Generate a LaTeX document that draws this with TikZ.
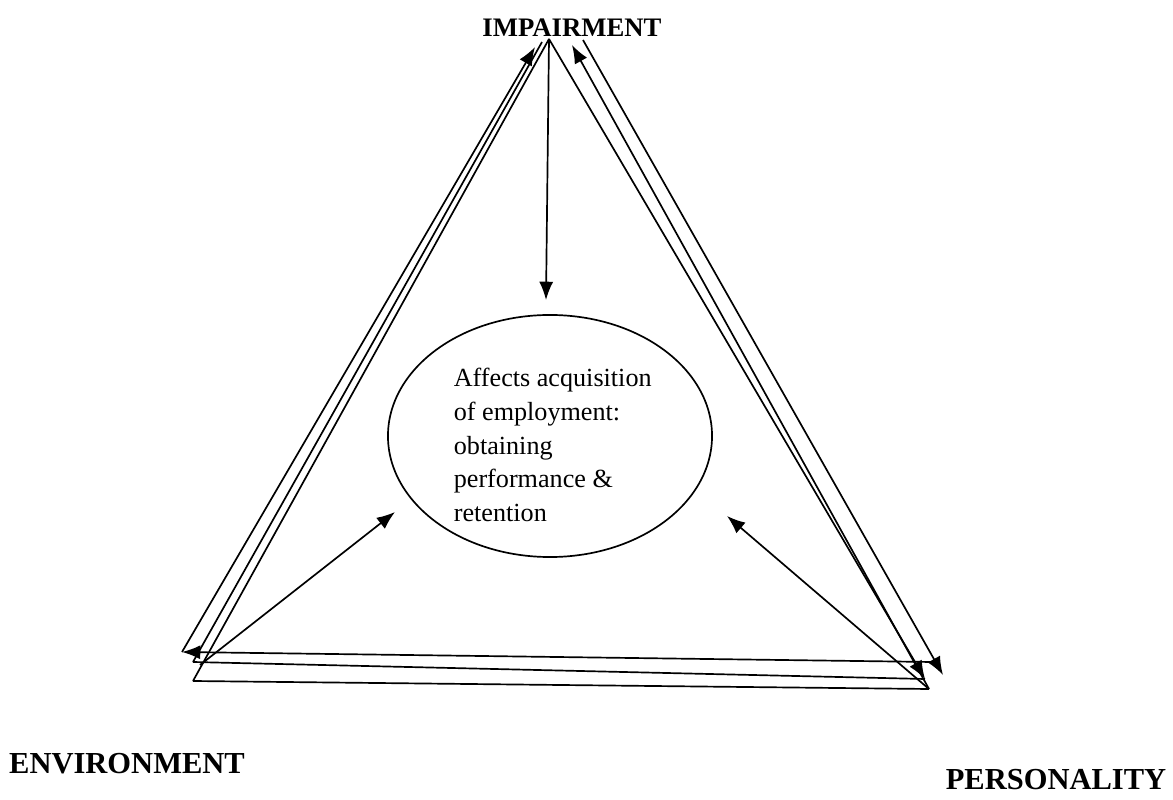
\documentclass[tikz,border=0pt]{standalone}
\usepackage{fontspec}
\setmainfont{Liberation Serif}
\usetikzlibrary{arrows.meta,positioning,calc,shapes.geometric}

\begin{document}
\begin{tikzpicture}[x=0.025cm, y=-0.025cm,
            every path/.style={line width=1.2pt},
            arrowline/.style={-{Latex[length=13pt,width=10pt]}},
            corner/.style={font=\bfseries\fontsize{21.7}{26}\selectfont, inner sep=0pt}]
        \useasboundingbox (0,0) rectangle (1173,800);
        % the three factors
        \node[corner, font=\bfseries\fontsize{19}{23}\selectfont] (imp) at (572,28) {IMPAIRMENT};
        \node[corner] (env) at (127,764) {ENVIRONMENT};
        \node[corner] (pers) at (1056,780) {PERSONALITY};
        % outcome in the middle
        \node[draw, ellipse, minimum width=8.1cm, minimum height=6.05cm] (goal) at (550,436) {};
        \node[anchor=west, align=left, inner sep=0pt, font=\fontsize{18.6}{24}\selectfont] (goaltext) at (453,445)
            {Affects acquisition\\of employment:\\obtaining\\performance \&\\retention};
        % line ends
        \coordinate (impA) at (535,47);
        \coordinate (impB) at (542,42);
        \coordinate (impC) at (549,39);
        \coordinate (impE) at (572,45);
        \coordinate (impF) at (583,40);
        \coordinate (envA) at (182,652);
        \coordinate (envB) at (193,662);
        \coordinate (envC) at (193,681);
        \coordinate (envD) at (200,665);
        \coordinate (persA) at (932,662);
        \coordinate (persB) at (943,675);
        \coordinate (persC) at (925,679);
        \coordinate (persD) at (929,689);
        \coordinate (goalN) at (546,300);
        \coordinate (goalW) at (395,512);
        \coordinate (goalE) at (727,516);
        % left side
        \draw[arrowline] (envA) -- (impA);
        \draw (envB) -- (impB);
        \draw (envC) -- (impC);
        % right side
        \draw[arrowline] (impC) -- (persC);
        \draw[arrowline] (persD) -- (impE);
        \draw[arrowline] (impF) -- (persB);
        % bottom
        \draw[arrowline] (persA) -- (envA);
        \draw (envB) -- (persC);
        \draw (envC) -- (persD);
        % into the ellipse
        \draw[arrowline] (impC) -- (goalN);
        \draw[arrowline] (envD) -- (goalW);
        \draw[arrowline] (persD) -- (goalE);
\end{tikzpicture}
\end{document}
